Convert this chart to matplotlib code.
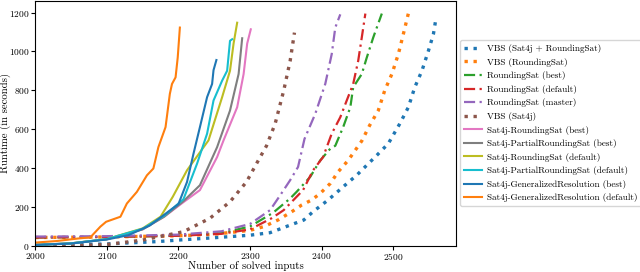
import matplotlib
matplotlib.use("Agg")
import matplotlib.pyplot as plt

plt.rcParams["font.family"] = ["cmr10", "DejaVu Serif"]
plt.rcParams["axes.formatter.use_mathtext"] = True

# cactus-plot series: number of solved inputs vs runtime (s)
vbs_all_x = [2000, 2100, 2170, 2200, 2250, 2300, 2328, 2356, 2375, 2388, 2409, 2430, 2449, 2463, 2477, 2493, 2509, 2521, 2530, 2540, 2549, 2556, 2559]
vbs_all_y = [2, 10, 22, 30, 42, 55, 68, 107, 133, 176, 236, 304, 364, 415, 466, 526, 628, 713, 816, 901, 1003, 1089, 1157]

vbs_rs_x = [2000, 2100, 2200, 2250, 2300, 2320, 2340, 2360, 2372, 2386, 2398, 2412, 2423, 2437, 2456, 2467, 2479, 2488, 2498, 2507, 2514, 2521]
vbs_rs_y = [43, 46, 52, 60, 80, 100, 135, 180, 210, 236, 270, 321, 381, 440, 540, 620, 696, 799, 884, 986, 1089, 1195]

rs_best_x = [2000, 2100, 2200, 2260, 2300, 2332, 2356, 2365, 2384, 2398, 2412, 2419, 2430, 2440, 2444, 2456, 2463, 2472, 2484]
rs_best_y = [43, 46, 52, 65, 100, 170, 244, 278, 355, 440, 500, 515, 611, 713, 816, 884, 969, 1072, 1195]

rs_def_x = [2000, 2100, 2200, 2260, 2300, 2330, 2347, 2374, 2388, 2402, 2414, 2426, 2435, 2444, 2451, 2456, 2461]
rs_def_y = [43, 46, 52, 62, 85, 142, 184, 287, 389, 457, 577, 662, 748, 833, 952, 1072, 1195]

rs_master_x = [2000, 2100, 2200, 2260, 2300, 2328, 2342, 2356, 2367, 2376, 2391, 2405, 2414, 2419, 2426]
rs_master_y = [48, 50, 58, 75, 113, 184, 260, 338, 406, 550, 679, 833, 986, 1123, 1191]

vbs_sat4j_x = [2000, 2058, 2100, 2150, 2207, 2244, 2272, 2295, 2309, 2323, 2335, 2347, 2356, 2362]
vbs_sat4j_y = [0, 1, 7, 30, 73, 142, 227, 329, 423, 515, 628, 799, 952, 1097]

s4_rs_best_x = [2000, 2050, 2100, 2150, 2180, 2207, 2230, 2254, 2263, 2282, 2291, 2296, 2301]
s4_rs_best_y = [5, 13, 34, 85, 150, 225, 287, 457, 543, 713, 884, 1041, 1114]

s4_prs_best_x = [2000, 2050, 2100, 2150, 2180, 2207, 2230, 2254, 2272, 2284, 2289]
s4_prs_best_y = [5, 13, 34, 85, 150, 230, 312, 508, 696, 884, 1068]

s4_rs_def_x = [2000, 2050, 2100, 2150, 2175, 2192, 2212, 2242, 2261, 2272, 2277, 2282]
s4_rs_def_y = [5, 13, 35, 90, 150, 252, 389, 543, 765, 901, 1041, 1148]

s4_prs_def_x = [2000, 2050, 2100, 2150, 2180, 2207, 2226, 2240, 2249, 2261, 2268, 2272, 2275]
s4_prs_def_y = [5, 13, 35, 88, 155, 240, 423, 577, 748, 850, 901, 1055, 1063]

s4_gr_best_x = [2000, 2050, 2100, 2130, 2160, 2180, 2200, 2212, 2221, 2230, 2240, 2247, 2249, 2253]
s4_gr_best_y = [5, 12, 33, 55, 105, 160, 215, 329, 474, 611, 765, 833, 904, 956]

s4_gr_def_x = [2000, 2030, 2060, 2077, 2091, 2099, 2119, 2128, 2142, 2156, 2165, 2172, 2182, 2188, 2191, 2196, 2199, 2202]
s4_gr_def_y = [17, 25, 38, 44, 99, 124, 150, 218, 278, 363, 398, 508, 611, 782, 833, 867, 969, 1123]

fig = plt.figure(figsize=(6.4, 2.72), dpi=100)
ax = fig.add_axes([0.055, 0.096, 0.658, 0.902])

dot = (0, (1, 1.7))
dd = (0, (5, 2, 1, 2))
ax.plot(vbs_all_x, vbs_all_y, color="C0", lw=2.4, ls=dot, label="VBS (Sat4j + RoundingSat)")
ax.plot(vbs_rs_x, vbs_rs_y, color="C1", lw=2.4, ls=dot, label="VBS (RoundingSat)")
ax.plot(rs_best_x, rs_best_y, color="C2", lw=1.6, ls=dd, label="RoundingSat (best)")
ax.plot(rs_def_x, rs_def_y, color="C3", lw=1.6, ls=dd, label="RoundingSat (default)")
ax.plot(rs_master_x, rs_master_y, color="C4", lw=1.6, ls=dd, label="RoundingSat (master)")
ax.plot(vbs_sat4j_x, vbs_sat4j_y, color="C5", lw=2.4, ls=dot, label="VBS (Sat4j)")
ax.plot(s4_rs_best_x, s4_rs_best_y, color="C6", lw=1.5, label="Sat4j-RoundingSat (best)")
ax.plot(s4_prs_best_x, s4_prs_best_y, color="C7", lw=1.5, label="Sat4j-PartialRoundingSat (best)")
ax.plot(s4_rs_def_x, s4_rs_def_y, color="C8", lw=1.5, label="Sat4j-RoundingSat (default)")
ax.plot(s4_prs_def_x, s4_prs_def_y, color="C9", lw=1.5, label="Sat4j-PartialRoundingSat (default)")
ax.plot(s4_gr_best_x, s4_gr_best_y, color="C0", lw=1.5, label="Sat4j-GeneralizedResolution (best)")
ax.plot(s4_gr_def_x, s4_gr_def_y, color="C1", lw=1.5, label="Sat4j-GeneralizedResolution (default)")

ax.set_xlim(2000, 2588)
ax.set_ylim(0, 1262)
ax.set_xticks([2000, 2100, 2200, 2300, 2400, 2500])
ax.set_yticks([0, 200, 400, 600, 800, 1000, 1200])
ax.tick_params(labelsize=6.8, length=3, pad=1)
ax.set_xlabel("Number of solved inputs", fontsize=7.8)
ax.set_ylabel("Runtime (in seconds)", fontsize=7.8)
ax.xaxis.set_label_coords(0.5, -0.062)
ax.yaxis.set_label_coords(-0.058, 0.5)

ax.legend(loc="center left", bbox_to_anchor=(1.002, 0.5), fontsize=6.6,
          handlelength=2.0, labelspacing=0.5, borderpad=0.4, handletextpad=0.6,
          borderaxespad=0.3)

fig.savefig("out.png", dpi=100)
